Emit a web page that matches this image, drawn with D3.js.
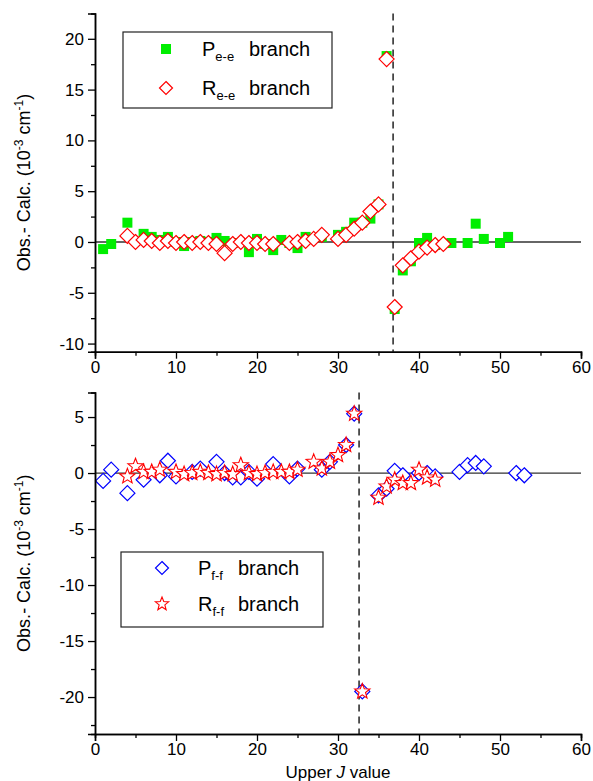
<!DOCTYPE html>
<html><head><meta charset="utf-8">
<script src="https://cdn.jsdelivr.net/npm/d3@7/dist/d3.min.js"></script>
<style>
body{margin:0;background:#fff;}
text{font-family:"Liberation Sans",Arial,sans-serif;fill:#000;}
</style></head>
<body><svg id="c" width="593" height="781"></svg>
<script>
// ---- data ----
const peeJ = [1,2,4,6,7,8,9,10,11,12,13,14,15,16,17,19,20,21,22,23,24,25,26,28,30,31,32,33,34,35,36,37,38,39,40,41,42,44,46,47,48,50,51];
const peeV = [-0.7,-0.2,1.9,0.8,0.5,0.2,0.5,0.0,-0.4,0.0,0.1,0.0,0.4,0.1,-0.1,-1.0,0.3,-0.2,-0.8,0.2,-0.1,-0.6,0.5,0.5,0.7,1.0,1.9,1.9,2.3,3.7,18.3,-6.6,-2.8,-1.9,-0.1,0.4,-0.3,-0.1,-0.1,1.8,0.3,-0.1,0.5];
const reeJ = [4,5,6,7,8,9,10,11,12,13,14,15,16,17,18,19,20,21,22,24,25,26,27,28,30,31,32,33,34,35,36,37,38,39,40,41,42,43];
const reeV = [0.6,0.0,0.2,0.1,-0.1,0.1,-0.1,0.0,-0.1,0.0,-0.1,-0.2,-1.1,-0.2,0.0,-0.1,-0.1,-0.2,-0.2,-0.1,0.0,0.1,0.3,0.7,0.3,0.7,1.3,1.9,3.0,3.7,18.0,-6.4,-2.3,-1.6,-0.95,-0.55,-0.3,-0.2];
const pffJ = [1,2,4,6,8,9,10,12,13,15,16,17,18,19,20,22,24,25,28,29,31,32,33,35,36,37,38,40,41,42,45,46,47,48,52,53];
const pffV = [-0.7,0.3,-1.8,-0.6,-0.2,1.1,-0.3,0.1,0.4,1.0,0.0,-0.4,-0.4,0.1,-0.5,0.8,-0.3,0.4,0.3,1.0,2.5,5.3,-19.5,-2.0,-1.4,0.2,-0.2,0.0,0.0,-0.3,0.1,0.7,0.9,0.6,0.0,-0.2];
const rffJ = [4,5,6,7,8,10,11,12,13,14,15,16,17,18,19,20,21,22,23,24,25,27,28,29,30,31,32,33,35,36,37,38,39,40,41,42];
const rffV = [-0.3,0.6,0.1,0.1,0.3,0.1,-0.1,0.0,0.1,0.0,-0.1,0.0,-0.1,0.7,0.0,-0.1,0.0,0.1,0.1,0.1,0.3,1.0,0.4,1.0,1.6,2.5,5.3,-19.5,-2.2,-1.2,-0.6,-0.9,-0.9,0.3,-0.4,-0.6];
const xTicks = [0,10,20,30,40,50,60];
const yTicksTop = [-10,-5,0,5,10,15,20];
const yTicksBot = [-20,-15,-10,-5,0,5];
const dashTop = 36.8, dashBot = 32.6;

const svg = d3.select("#c");
const x0 = 95, x1 = 581;
const fmt = d => String(d);

const diamond = r => `M0,${-r}L${r},0L0,${r}L${-r},0Z`;
const star = (R, r) => {
  let p = "";
  for (let i = 0; i < 10; i++) {
    const a = -Math.PI/2 + i*Math.PI/5;
    const rr = i % 2 ? r : R;
    p += (i ? "L" : "M") + (rr*Math.cos(a)).toFixed(2) + "," + (rr*Math.sin(a)).toFixed(2);
  }
  return p + "Z";
};

function panel(cfg) {
  const x = d3.scaleLinear().domain([0,60]).range([x0,x1]);
  const y = d3.scaleLinear().domain(cfg.ydom).range([cfg.ybot, cfg.ytop]);
  const g = svg.append("g");
  g.append("line").attr("x1",x0).attr("x2",x1).attr("y1",y(0)).attr("y2",y(0))
    .attr("stroke","#333").attr("stroke-width",1.3);
  g.append("line").attr("x1",x(cfg.dash)).attr("x2",x(cfg.dash)).attr("y1",cfg.ytop).attr("y2",cfg.ybot)
    .attr("stroke","#000").attr("stroke-width",1.3).attr("stroke-dasharray","7,5");
  cfg.series.forEach(s => {
    const pts = s.J.map((j,i) => [j, s.V[i]]);
    g.append("g").selectAll("path").data(pts).join("path")
      .attr("transform", d => `translate(${x(d[0])},${y(d[1])})`)
      .attr("d", s.path).attr("fill", s.fill).attr("stroke", s.stroke).attr("stroke-width", s.sw);
  });
  g.append("g").attr("transform",`translate(${x0},0)`)
    .call(d3.axisLeft(y).tickValues(cfg.yticks).tickSize(7).tickPadding(4).tickFormat(fmt));
  g.append("g").attr("transform",`translate(${x0},0)`)
    .call(d3.axisLeft(y).tickValues(cfg.yminor).tickSize(4).tickFormat(""));
  g.append("g").attr("transform",`translate(0,${cfg.ybot})`)
    .call(d3.axisBottom(x).tickValues(xTicks).tickSize(7).tickPadding(2).tickFormat(fmt));
  g.append("g").attr("transform",`translate(0,${cfg.ybot})`)
    .call(d3.axisBottom(x).tickValues(d3.range(5,60,10)).tickSize(4).tickFormat(""));
  g.selectAll(".domain").attr("stroke","#000").attr("stroke-width",1.5);
  g.selectAll(".tick line").attr("stroke","#000").attr("stroke-width",1.3);
  g.selectAll(".tick text").style("font-size","17px").style("font-family","'Liberation Sans',Arial,sans-serif");
  const lab = g.append("text").attr("transform",`translate(30,${(cfg.ytop+cfg.ybot)/2}) rotate(-90)`)
    .attr("text-anchor","middle").style("font-size","18px");
  lab.append("tspan").text("Obs.- Calc. (10");
  lab.append("tspan").attr("dy",-7).style("font-size","12px").text("-3");
  lab.append("tspan").attr("dy",7).text(" cm");
  lab.append("tspan").attr("dy",-7).style("font-size","12px").text("-1");
  lab.append("tspan").attr("dy",7).text(")");
  const L = cfg.legend;
  g.append("rect").attr("x",L.x).attr("y",L.y).attr("width",L.w).attr("height",L.h)
    .attr("fill","#fff").attr("stroke","#222").attr("stroke-width",1.2);
  cfg.series.forEach((s,i) => {
    const yy = L.y + L.r0 + i*L.dy;
    g.append("path").attr("transform",`translate(${L.x+L.sx},${yy})`).attr("d", s.lpath || s.path)
      .attr("fill", s.fill).attr("stroke", s.stroke).attr("stroke-width", s.sw);
    const t = g.append("text").attr("x", L.x+L.tx).attr("y", yy+7).style("font-size","20px");
    t.append("tspan").text(s.name);
    t.append("tspan").attr("dy",5).style("font-size","13px").text(s.sub);
    g.append("text").attr("x", L.x+L.bx).attr("y", yy+7).style("font-size","20px").text("branch");
  });
}

panel({
  ydom:[-10.8,22.5], ytop:13.4, ybot:351.7, dash:dashTop,
  yticks:yTicksTop, yminor:d3.range(-7.5,22.5,5),
  legend:{x:123,y:32,w:209,h:76,r0:17,dy:39,sx:43,tx:79,bx:126},
  series:[
    {J:peeJ, V:peeV, path:"M-5,-5h10v10h-10Z", fill:"#00ee00", stroke:"none", sw:0, name:"P", sub:"e-e"},
    {J:reeJ, V:reeV, path:diamond(7.5), fill:"#fff", stroke:"#ff0000", sw:1.2, name:"R", sub:"e-e", lpath:diamond(6.5)}
  ]
});
panel({
  ydom:[-23.3,7.2], ytop:392.4, ybot:734, dash:dashBot,
  yticks:yTicksBot, yminor:d3.range(-22.5,7.5,5),
  legend:{x:121,y:552,w:202,h:75,r0:16,dy:36,sx:41,tx:77,bx:117},
  series:[
    {J:pffJ, V:pffV, path:diamond(7.5), fill:"#fff", stroke:"#0000ff", sw:1.2, name:"P", sub:"f-f", lpath:diamond(6.5)},
    {J:rffJ, V:rffV, path:star(8,3.4), fill:"#fff", stroke:"#ff0000", sw:1.1, name:"R", sub:"f-f", lpath:star(7,3)}
  ]
});
const xt = svg.append("text").attr("x",338).attr("y",778).attr("text-anchor","middle").style("font-size","17px");
xt.append("tspan").text("Upper ");
xt.append("tspan").style("font-style","italic").text("J");
xt.append("tspan").text(" value");
</script></body></html>
